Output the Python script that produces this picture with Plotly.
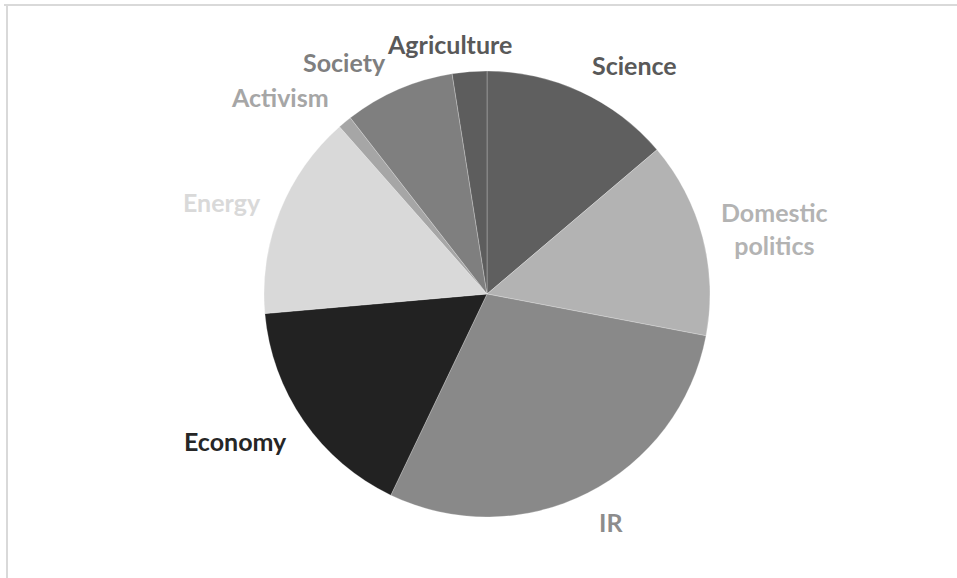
import plotly.graph_objects as go

# Topic shares (percent of items), clockwise from 12 o'clock
topics = ["Science", "Domestic politics", "IR", "Economy", "Energy",
          "Activism", "Society", "Agriculture"]
shares = [13.8, 14.2, 29.1, 16.5, 14.9, 1.0, 8.0, 2.5]

slice_colors = ["#5f5f5f", "#b3b3b3", "#898989", "#222222", "#d9d9d9",
                "#a6a6a6", "#7f7f7f", "#5d5d5d"]
label_colors = ["#595959", "#b3b3b3", "#8c8c8c", "#262626", "#d9d9d9",
                "#a6a6a6", "#7f7f7f", "#595959"]
label_text = ["Science", "Domestic<br>politics", "IR", "Economy", "Energy",
              "Activism", "Society", "Agriculture"]
# label anchor points (paper coordinates)
label_pos = [(0.6635, 0.8875), (0.8098, 0.6055), (0.6385, 0.0969), (0.2456, 0.2370),
             (0.2320, 0.6505), (0.2926, 0.8322), (0.3595, 0.8927), (0.4702, 0.9239)]

W, H = 957, 578
cx, cy, r = 487, 294, 223

fig = go.Figure(go.Pie(
    labels=topics,
    values=shares,
    sort=False,
    direction="clockwise",
    rotation=0,
    textinfo="none",
    hoverinfo="label+percent",
    marker=dict(colors=slice_colors, line=dict(color="rgba(255,255,255,0.25)", width=1)),
    domain=dict(x=[(cx - r) / W, (cx + r) / W],
                y=[1 - (cy + r) / H, 1 - (cy - r) / H]),
    showlegend=False,
))

for txt, col, (x, y) in zip(label_text, label_colors, label_pos):
    fig.add_annotation(x=x, y=y, xref="paper", yref="paper", text=f"<b>{txt}</b>",
                       showarrow=False, xanchor="center", yanchor="middle",
                       font=dict(family="Lato", size=25, color=col))

# chart frame edges
fig.add_shape(type="line", xref="paper", yref="paper", x0=4 / W, x1=1, y0=1 - 5 / H, y1=1 - 5 / H,
              line=dict(color="#d9d9d9", width=2))
fig.add_shape(type="line", xref="paper", yref="paper", x0=7 / W, x1=7 / W, y0=0, y1=1 - 5 / H,
              line=dict(color="#d9d9d9", width=2))

fig.update_layout(width=W, height=H, margin=dict(l=0, r=0, t=0, b=0),
                  paper_bgcolor="white", plot_bgcolor="white")

fig.write_html("out.html")
